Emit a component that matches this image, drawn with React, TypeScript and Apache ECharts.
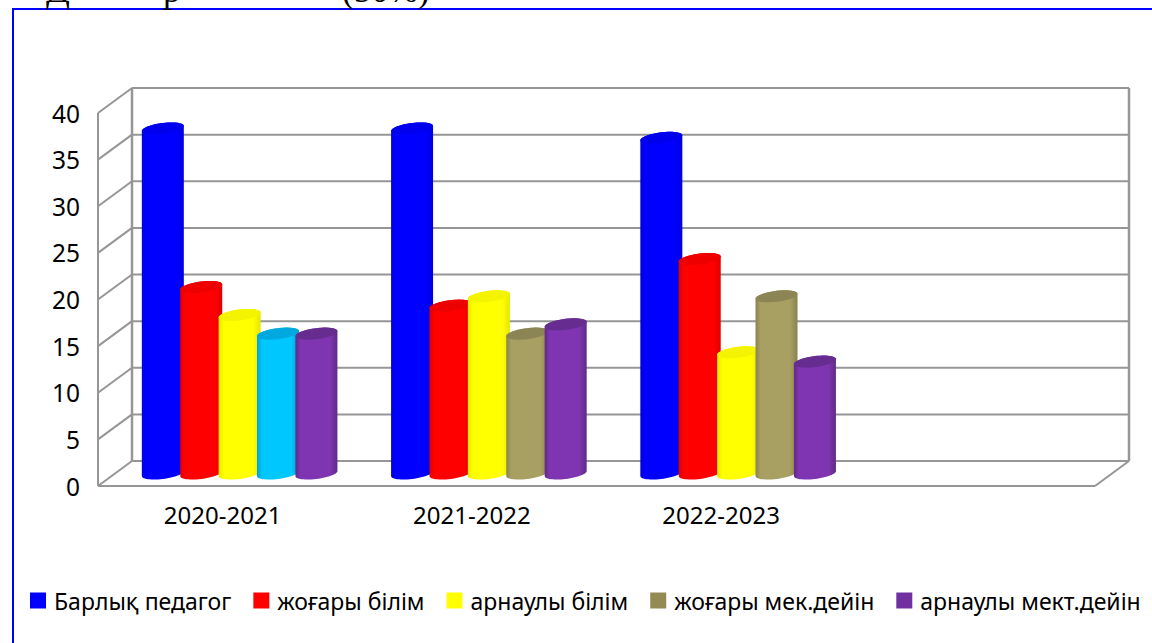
import React, { useEffect, useRef } from "react";
import * as echarts from "echarts";

const categories = ["2020-2021", "2021-2022", "2022-2023", ""];
const seriesNames = ["Барлық педагог", "жоғары білім", "арнаулы білім", "жоғары мек.дейін", "арнаулы мект.дейін"];
const teachers = [37, 37, 36];
const higher = [20, 18, 23];
const special = [17, 19, 13];
const higherPre = [15, 15, 19];
const specialPre = [15, 16, 12];
const allValues = [teachers, higher, special, higherPre, specialPre];
const yTicks = [0, 5, 10, 15, 20, 25, 30, 35, 40];

// [edge, mid, top]
const palette = [
  ["#0000e0", "#0000ff", "#0000ee"],
  ["#e00000", "#ff0000", "#ee0000"],
  ["#e6e600", "#ffff00", "#f4f400"],
  ["#8a8350", "#a89f62", "#8b8455"],
  ["#5f2a85", "#7f35b2", "#662c90"],
];
const cyan = ["#00a0d8", "#00c8ff", "#00a8e0"];
const legendColors = ["#0000ff", "#ff0000", "#ffff00", "#948a54", "#7030a0"];

const DX = 34;
const DY = -25;
const R = 21;
const RY = 5.5;
const K = 2.5;
const STEP = 38.4;

function ellipse(cx: number, cy: number, from: number, to: number, n = 28) {
  const pts: number[][] = [];
  for (let i = 0; i <= n; i++) {
    const t = from + ((to - from) * i) / n;
    pts.push([cx + R * Math.cos(t), cy + RY * Math.sin(t) - K * Math.cos(t)]);
  }
  return pts;
}

function cylinder(si: number) {
  return (params: any, api: any) => {
    const ci = api.value(0);
    const v = api.value(1);
    const base = api.coord([ci, 0]);
    const top = api.coord([ci, v]);
    const cx = base[0] + DX / 2 + (si - 2) * STEP;
    const by = base[1] + DY / 2;
    const ty = top[1] + DY / 2;
    const c = si === 3 && ci === 0 ? cyan : palette[si];
    const body = [...ellipse(cx, by, 0, Math.PI), ...ellipse(cx, ty, Math.PI, 2 * Math.PI)];
    const cap = ellipse(cx, ty, 0, 2 * Math.PI, 48);
    const grad = new echarts.graphic.LinearGradient(0, 0, 1, 0, [
      { offset: 0, color: c[0] },
      { offset: 0.12, color: c[1] },
      { offset: 0.82, color: c[1] },
      { offset: 1, color: c[0] },
    ]);
    return {
      type: "group",
      children: [
        { type: "polygon", shape: { points: body }, style: { fill: grad } },
        { type: "polygon", shape: { points: cap }, style: { fill: c[2] } },
      ],
    };
  };
}

function walls(params: any, api: any) {
  const v = api.value(0);
  const left = params.coordSys.x;
  const right = params.coordSys.x + params.coordSys.width;
  const y = api.coord([0, v])[1];
  const style = { stroke: "#969696", lineWidth: 2, fill: "none" };
  const children: any[] = [
    { type: "line", shape: { x1: left, y1: y, x2: left + DX, y2: y + DY }, style },
    { type: "line", shape: { x1: left + DX, y1: y + DY, x2: right + DX, y2: y + DY }, style },
  ];
  if (v === 0) {
    const topY = api.coord([0, 40])[1];
    children.push(
      { type: "line", shape: { x1: left, y1: y, x2: right, y2: y }, style },
      { type: "line", shape: { x1: right, y1: y, x2: right + DX, y2: y + DY }, style },
      { type: "line", shape: { x1: left, y1: y, x2: left, y2: topY }, style },
      { type: "line", shape: { x1: left + DX, y1: y + DY, x2: left + DX, y2: topY + DY }, style: { ...style, lineWidth: 2.5 } },
      { type: "line", shape: { x1: right + DX, y1: y + DY, x2: right + DX, y2: topY + DY }, style: { ...style, lineWidth: 2.5 } }
    );
  }
  return { type: "group", children };
}

export default function App() {
  const ref = useRef<HTMLDivElement>(null);
  useEffect(() => {
    const chart = echarts.init(ref.current!, undefined, { renderer: "svg" });
    const font = "'Noto Sans', sans-serif";
    const clipped = "35px 'Liberation Serif', serif";
    chart.setOption({
      animation: false,
      backgroundColor: "#ffffff",
      grid: { left: 98, top: 113, width: 997, height: 373, containLabel: false },
      xAxis: {
        type: "category",
        data: categories,
        axisLine: { show: false },
        axisTick: { show: false },
        axisLabel: { color: "#000", fontFamily: font, fontSize: 24, margin: 16, interval: 0 },
      },
      yAxis: {
        type: "value",
        min: 0,
        max: 40,
        interval: 5,
        axisLine: { show: false },
        axisTick: { show: false },
        splitLine: { show: false },
        axisLabel: { color: "#000", fontFamily: font, fontSize: 24.5, margin: 18 },
      },
      legend: {
        left: 25,
        top: 584,
        itemWidth: 16,
        itemHeight: 16,
        itemGap: 22,
        icon: "rect",
        data: seriesNames,
        textStyle: { color: "#000", fontFamily: font, fontSize: 23, padding: [0, 0, 0, 3] },
        selectedMode: false,
      },
      graphic: [
        { type: "rect", silent: true, shape: { x: 13, y: 9, width: 1300, height: 800 }, style: { fill: "none", stroke: "#0000ff", lineWidth: 2 } },
        { type: "text", silent: true, x: 46, y: -27, style: { text: "Д", fill: "#000", font: clipped } },
        { type: "text", silent: true, x: 163, y: -27, style: { text: "р", fill: "#000", font: clipped } },
        { type: "text", silent: true, x: 342, y: -27, style: { text: "(50%)", fill: "#000", font: clipped } },
      ],
      series: [
        {
          type: "custom",
          name: "walls",
          silent: true,
          z: 1,
          clip: false,
          data: yTicks.map((t) => [t]),
          encode: { y: 0 },
          renderItem: walls,
        },
        ...seriesNames.map((name, si) => ({
          type: "custom",
          name,
          z: 2 + si,
          clip: false,
          itemStyle: { color: legendColors[si] },
          encode: { x: 0, y: 1 },
          data: allValues[si].map((v, ci) => [ci, v]),
          renderItem: cylinder(si),
        })),
      ],
    });
    return () => chart.dispose();
  }, []);
  return <div ref={ref} style={{ position: "absolute", left: 0, top: 0, width: 1152, height: 643, overflow: "hidden" }} />;
}
